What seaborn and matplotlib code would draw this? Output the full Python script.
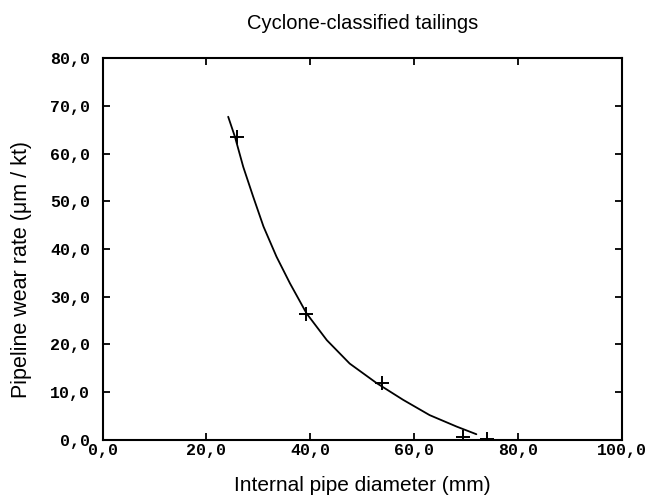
import numpy as np
import pandas as pd
import matplotlib
matplotlib.use("Agg")
import matplotlib.pyplot as plt
from matplotlib.ticker import FuncFormatter
import seaborn as sns

# measured points (internal diameter mm, wear rate um/kt)
diameter = [25.9, 39.2, 53.9, 69.5, 74.0]
wear_rate = [63.5, 26.3, 12.0, 0.6, 0.1]

# fitted curve
curve_x = [24.2, 25.5, 27.1, 29.0, 31.0, 33.5, 36.1, 39.3, 43.2, 47.6,
           52.8, 57.9, 63.0, 68.2, 72.0]
curve_y = [67.7, 63.5, 57.2, 51.0, 44.7, 38.4, 32.8, 26.5, 20.9, 16.0,
           11.9, 8.4, 5.2, 2.8, 1.2]

sns.set_style("ticks")
plt.rcParams['font.family'] = ['Liberation Sans', 'DejaVu Sans']
plt.rcParams['text.color'] = 'black'
plt.rcParams['axes.labelcolor'] = 'black'

fig = plt.figure(figsize=(6.49, 4.96), dpi=100)
ax = fig.add_axes([0.158, 0.113, 0.800, 0.770])

pts = pd.DataFrame({'d': diameter, 'w': wear_rate})
fit = pd.DataFrame({'d': curve_x, 'w': curve_y})

sns.lineplot(data=fit, x='d', y='w', sort=False, color='black', linewidth=1.3, ax=ax)
sns.scatterplot(data=pts, x='d', y='w', marker='+', s=90, color='black',
                linewidth=1.4, ax=ax)

ax.set_xlim(0, 100)
ax.set_ylim(0, 80)
ax.set_xticks(np.arange(0, 101, 20))
ax.set_yticks(np.arange(0, 81, 10))
fmt = FuncFormatter(lambda v, p: f"{v:.1f}".replace('.', ','))
ax.xaxis.set_major_formatter(fmt)
ax.yaxis.set_major_formatter(fmt)

ax.tick_params(direction='in', length=5, width=1.3, top=True, right=True,
               labelsize=12, colors='black')
for lab in ax.get_xticklabels() + ax.get_yticklabels():
    lab.set_family('Liberation Mono')
    lab.set_fontweight('bold')
ax.tick_params(axis='x', pad=2)
ax.tick_params(axis='y', pad=9)

for s in ax.spines.values():
    s.set_visible(True)
    s.set_linewidth(1.5)
    s.set_color('black')

ax.set_title('Cyclone-classified tailings', fontsize=14.5, pad=21, color='black')
ax.set_xlabel('Internal pipe diameter (mm)', fontsize=15, labelpad=13)
ax.set_ylabel('Pipeline wear rate (\u03bcm / kt)', fontsize=15.5)
ax.yaxis.set_label_coords(-0.136, 0.445)

plt.savefig('out.png', dpi=100)
